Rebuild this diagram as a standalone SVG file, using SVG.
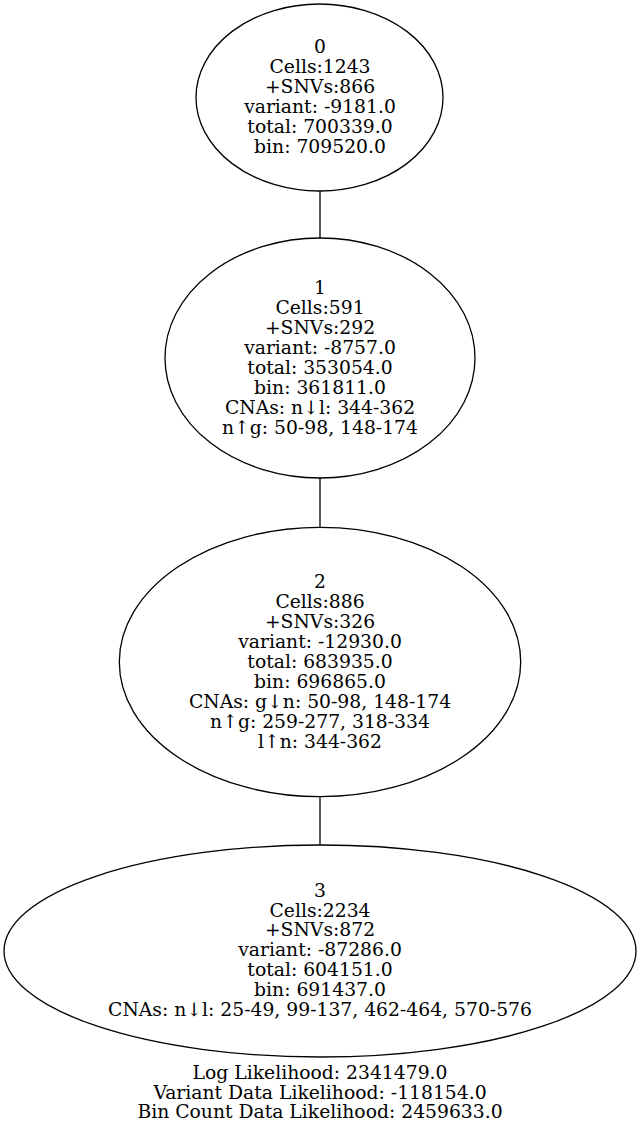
<svg xmlns="http://www.w3.org/2000/svg" width="640" height="1129" viewBox="0 0 640 1129">
  <style>
    .node ellipse { fill: none; stroke: #000; stroke-width: 1.3; }
    .edges line { stroke: #000; stroke-width: 1.3; }
    text { font-family: "DejaVu Serif", "Liberation Serif", serif; font-size: 18.75px; fill: #000; text-anchor: middle; }
  </style>
  <rect width="640" height="1129" fill="#fff"/>

  <!-- tree edges (undirected, no arrowheads) -->
  <g class="edges" id="edges">
    <line x1="320" y1="191" x2="320" y2="238"/>
    <line x1="320" y1="478" x2="320" y2="527"/>
    <line x1="320" y1="797" x2="320" y2="845"/>
  </g>

  <g class="node" id="node0">
    <ellipse cx="319.5" cy="97.5" rx="123.5" ry="93.5"/>
    <text x="320" y="52.5">0</text>
    <text x="320" y="72.5">Cells:1243</text>
    <text x="320" y="92.5">+SNVs:866</text>
    <text x="320" y="112.5">variant: -9181.0</text>
    <text x="320" y="132.5">total: 700339.0</text>
    <text x="320" y="152.5">bin: 709520.0</text>
  </g>

  <g class="node" id="node1">
    <ellipse cx="320" cy="358" rx="155" ry="120"/>
    <text x="320" y="293.5">1</text>
    <text x="320" y="313.5">Cells:591</text>
    <text x="320" y="333.5">+SNVs:292</text>
    <text x="320" y="353.5">variant: -8757.0</text>
    <text x="320" y="373.5">total: 353054.0</text>
    <text x="320" y="393.5">bin: 361811.0</text>
    <text x="320" y="413.5">CNAs: n↓l: 344-362</text>
    <text x="320" y="433.5">n↑g: 50-98, 148-174</text>
  </g>

  <g class="node" id="node2">
    <ellipse cx="320" cy="662" rx="200.7" ry="134.7"/>
    <text x="320" y="587.5">2</text>
    <text x="320" y="607.5">Cells:886</text>
    <text x="320" y="627.5">+SNVs:326</text>
    <text x="320" y="647.5">variant: -12930.0</text>
    <text x="320" y="667.5">total: 683935.0</text>
    <text x="320" y="687.5">bin: 696865.0</text>
    <text x="320" y="707.5">CNAs: g↓n: 50-98, 148-174</text>
    <text x="320" y="727.5">n↑g: 259-277, 318-334</text>
    <text x="320" y="747.5">l↑n: 344-362</text>
  </g>

  <g class="node" id="node3">
    <ellipse cx="320" cy="951" rx="316" ry="106"/>
    <text x="320" y="896.7">3</text>
    <text x="320" y="916.5">Cells:2234</text>
    <text x="320" y="936.3">+SNVs:872</text>
    <text x="320" y="956.1">variant: -87286.0</text>
    <text x="320" y="975.9">total: 604151.0</text>
    <text x="320" y="995.7">bin: 691437.0</text>
    <text x="320" y="1015.7">CNAs: n↓l: 25-49, 99-137, 462-464, 570-576</text>
  </g>

  <g id="graph-label">
    <text x="320" y="1079">Log Likelihood: 2341479.0</text>
    <text x="320" y="1098.7">Variant Data Likelihood: -118154.0</text>
    <text x="320" y="1118.4">Bin Count Data Likelihood: 2459633.0</text>
  </g>
</svg>
